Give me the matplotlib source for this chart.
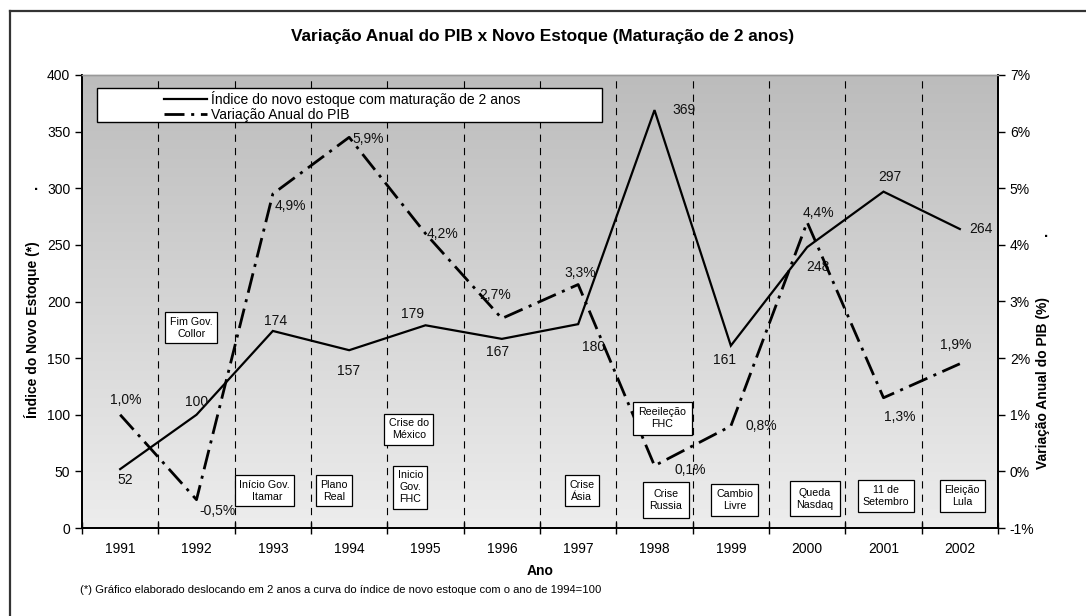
import matplotlib.pyplot as plt
import matplotlib.colors as mcolors
from matplotlib.lines import Line2D
from matplotlib.patches import Rectangle
import numpy as np

plt.rcParams['font.family'] = ['Liberation Sans', 'DejaVu Sans']

# dados
anos = ['1991', '1992', '1993', '1994', '1995', '1996',
        '1997', '1998', '1999', '2000', '2001', '2002']
indice_estoque = [52, 100, 174, 157, 179, 167, 180, 369, 161, 248, 297, 264]
var_pib = [1.0, -0.5, 4.9, 5.9, 4.2, 2.7, 3.3, 0.1, 0.8, 4.4, 1.3, 1.9]
pib_labels = ['1,0%', '-0,5%', '4,9%', '5,9%', '4,2%', '2,7%',
              '3,3%', '0,1%', '0,8%', '4,4%', '1,3%', '1,9%']

# deslocamento dos rótulos (pixels) em relação ao ponto
off_indice = [(5, -11), (0, 13), (3, 10), (-1, -21), (-13, 11), (-4, -13),
              (15, -23), (29, 0), (-6, -14), (11, -20), (6, 15), (21, 0)]
off_pib = [(6, 15), (21, -11), (18, -12), (19, -2), (17, 0), (-7, 23),
           (2, 12), (36, -4), (30, 0), (11, 9), (16, -19), (-4, 19)]

# eventos: texto, posição (x em categoria, y no eixo da esquerda)
eventos = [
    ('Fim Gov.\nCollor', 0.93, 177),
    ('Início Gov.\n  Itamar', 1.89, 33),
    ('Plano\nReal', 2.8, 33),
    ('Crise do\nMéxico', 3.78, 87),
    ('Inicio\nGov.\nFHC', 3.8, 36),
    ('Crise\nÁsia', 6.05, 33),
    ('Reeileção\nFHC', 7.1, 97),
    ('Crise\nRussia', 7.15, 25),
    ('Cambio\nLivre', 8.05, 25),
    ('Queda\nNasdaq', 9.1, 26),
    ('11 de\nSetembro', 10.03, 28),
    ('Eleição\nLula', 11.03, 28),
]
pads = [0.42, 0.42, 0.42, 0.42, 0.42, 0.42, 0.52, 0.65, 0.45, 0.62, 0.45, 0.45]

x = np.arange(len(anos))

fig = plt.figure(figsize=(10.86, 6.16), dpi=100)
ax = fig.add_axes([82 / 1086, 88 / 616, 916 / 1086, 453 / 616])
ax2 = ax.twinx()

# fundo em degradê
cmap = mcolors.LinearSegmentedColormap.from_list('fundo', ['#ededed', '#bcbcbc'])
grad = np.linspace(0, 1, 256).reshape(-1, 1)
ax.imshow(grad, extent=[-0.5, 11.5, 0, 400], aspect='auto', cmap=cmap,
          origin='lower', zorder=0)

ax.set_xlim(-0.5, 11.5)
ax.set_ylim(0, 400)
ax2.set_ylim(-1, 7)

# linhas verticais tracejadas nas divisões
for b in np.arange(0.5, 11.5, 1):
    ax.axvline(b, color='black', lw=0.8, linestyle=(0, (6.5, 5.5)), zorder=1)

l1, = ax.plot(x, indice_estoque, color='black', lw=1.6, zorder=3,
              solid_joinstyle='miter')
l2, = ax2.plot(x, var_pib, color='black', lw=2.0, zorder=3,
               linestyle=(0, (7.2, 2.4, 1.1, 2.4)), dash_capstyle='butt')

for i in range(len(anos)):
    ax.annotate(str(indice_estoque[i]), (x[i], indice_estoque[i]),
                xytext=off_indice[i], textcoords='offset pixels',
                ha='center', va='center', fontsize=10, color='#111111')
    ax2.annotate(pib_labels[i], (x[i], var_pib[i]),
                 xytext=off_pib[i], textcoords='offset pixels',
                 ha='center', va='center', fontsize=10, color='#111111')

for (txt, ex, ey), p in zip(eventos, pads):
    ax2.text(ex, (ey / 400) * 8 - 1, txt, ha='center', va='center', fontsize=7.7,
             linespacing=1.25, zorder=5,
             bbox=dict(boxstyle=f'square,pad={p}', fc='white', ec='black', lw=0.9))

# eixos e ticks
ax.set_xticks(np.arange(-0.5, 12, 1))
ax.set_xticklabels([])
ax.set_xticks(x, minor=True)
ax.set_xticklabels(anos, minor=True, fontsize=10)
ax.tick_params(axis='x', which='major', direction='inout', length=9, width=1)
ax.tick_params(axis='x', which='minor', length=0, pad=10)
ax.set_yticks(np.arange(0, 401, 50))
ax.tick_params(axis='y', direction='out', length=5, width=1, labelsize=10)
ax2.set_yticks(np.arange(-1, 8, 1))
ax2.set_yticklabels([f'{v}%' for v in range(-1, 8)])
ax2.tick_params(axis='y', direction='out', length=5, width=1, labelsize=10)

for a in (ax, ax2):
    for s in ('left', 'bottom', 'right'):
        a.spines[s].set_color('black')
        a.spines[s].set_linewidth(1.3)
    a.spines['top'].set_color('#999999')
    a.spines['top'].set_linewidth(1)

# títulos dos eixos
fig.text(540 / 1086, 1 - 571 / 616, 'Ano', ha='center', va='center',
         fontsize=10, fontweight='bold')
fig.text(32 / 1086, 1 - 330 / 616, 'Índice do Novo Estoque (*)', rotation=90,
         ha='center', va='center', fontsize=10, fontweight='bold')
fig.text(1043 / 1086, 1 - 383 / 616, 'Variação Anual do PIB (%)', rotation=90,
         ha='center', va='center', fontsize=10, fontweight='bold')

# legenda
ax2.add_patch(Rectangle((0.0164, 0.896), 0.5513, 0.075, transform=ax2.transAxes,
                        fc='white', ec='black', lw=1, zorder=6))
leg = ax2.legend([l1, l2], ['Índice do novo estoque com maturação de 2 anos',
                            'Variação Anual do PIB'],
                 loc='upper left', bbox_to_anchor=(0.083, 0.978), frameon=False,
                 fontsize=10, handlelength=3.1, handletextpad=0.3,
                 labelspacing=0.12, borderaxespad=0)
leg.set_zorder(7)

fig.text(543 / 1086, 1 - 37 / 616, 'Variação Anual do PIB x Novo Estoque (Maturação de 2 anos)',
         ha='center', va='center', fontsize=12.4, fontweight='bold')
fig.text(80 / 1086, 1 - 590 / 616,
         '(*) Gráfico elaborado deslocando em 2 anos a curva do índice de novo estoque com o ano de 1994=100',
         ha='left', va='center', fontsize=8.1)
fig.text(36 / 1086, 1 - 186 / 616, '.', ha='center', va='center', fontsize=11,
         fontweight='bold')
fig.text(1046 / 1086, 1 - 233 / 616, '.', ha='center', va='center', fontsize=11,
         fontweight='bold')

# moldura externa
fig.add_artist(Line2D([10 / 1086, 1], [1 - 11 / 616, 1 - 11 / 616],
                      transform=fig.transFigure, color='#333333', lw=1.6))
fig.add_artist(Line2D([10 / 1086, 10 / 1086], [0, 1 - 11 / 616],
                      transform=fig.transFigure, color='#333333', lw=1.6))

fig.savefig('out.png', dpi=100, facecolor='white')
